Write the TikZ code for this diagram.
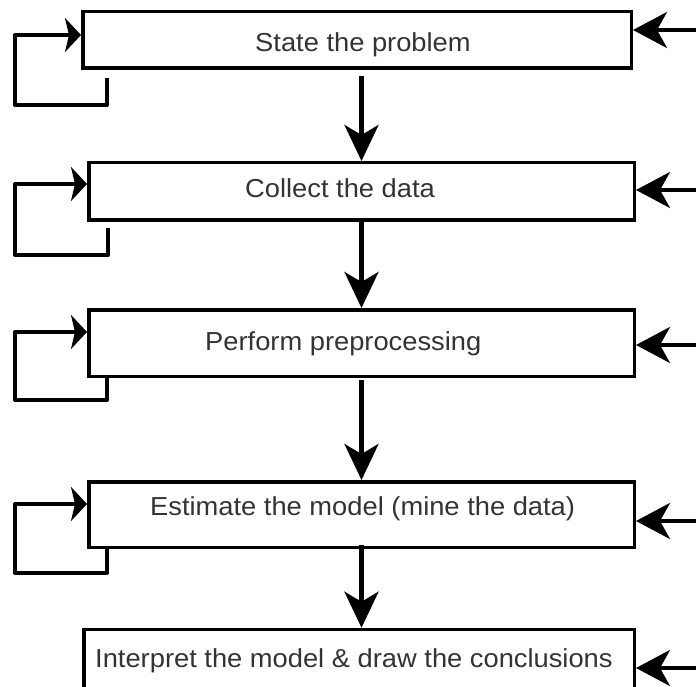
\documentclass[tikz,border=0pt]{standalone}
\usepackage{fontspec}
\setmainfont[FakeStretch=1.05]{Liberation Sans}
\usetikzlibrary{arrows.meta}

\tikzset{
  stagebox/.style={draw, line width=3.5pt, inner sep=0pt, minimum width=545.5pt},
  steptext/.style={font=\fontsize{26}{30}\selectfont, text=black!80, inner sep=0pt, anchor=base west},
  flowarrow/.style={line width=4.5pt, -{Stealth[length=36pt,width=34pt,inset=10pt]}},
  inarrow/.style={line width=4pt, -{Stealth[length=34pt,width=36pt,inset=10pt]}},
  looparrow/.style={line width=4pt, line join=round, -{Stealth[length=16pt,width=34pt,inset=4pt]}}
}

\begin{document}
\begin{tikzpicture}[x=1pt,y=-1pt]

\useasboundingbox (0,0) rectangle (696,687);

% Stages
\node[stagebox, minimum width=548.5pt, minimum height=56.5pt] (b1) at (357,40) {};
\node[stagebox, minimum height=57.5pt] (b2) at (361.5,191.5) {};
\node[stagebox, minimum height=66.5pt] (b3) at (361.5,343) {};
\node[stagebox, minimum height=65.5pt] (b4) at (361.5,514.5) {};
\node[stagebox, minimum width=550.5pt, minimum height=80pt] (b5) at (359,669.5) {};

\node[steptext] (t1) at (255,52) {State the problem};
\node[steptext] (t2) at (245,198) {Collect the data};
\node[steptext] (t3) at (205,350) {Perform preprocessing};
\node[steptext] (t4) at (150,515) {Estimate the model (mine the data)};
\node[steptext] (t5) at (95,667) {Interpret the model \& draw the conclusions};

% Flow down
\draw[flowarrow] ([yshift=-6pt]b1.south -| b2.north) -- (b2.north);
\draw[flowarrow] (b2.south) -- (b3.north);
\draw[flowarrow] ([yshift=-2pt]b3.south) -- (b4.north);
\draw[flowarrow] ([yshift=4pt]b4.south) -- (b4.south |- b5.north);

% Inputs from the right
\coordinate (r1) at (700,30);
\coordinate (r2) at (700,190);
\coordinate (r3) at (700,345);
\coordinate (r4) at (700,521);
\coordinate (r5) at (700,668);
\draw[inarrow] (r1) -- (r1 -| b1.east);
\draw[inarrow] (r2) -- (r2 -| b2.east);
\draw[inarrow] (r3) -- (r3 -| b3.east);
\draw[inarrow] (r4) -- (r4 -| b4.east);
\draw[inarrow] (r5) -- (r5 -| b5.east);

% Loops back
\draw[looparrow] ([xshift=26pt,yshift=-8pt]b1.south west) |- (15,105) |- (b1.west |- 0,35);
\draw[looparrow] ([xshift=21pt,yshift=-6pt]b2.south west) |- (15,255) |- (b2.west |- 0,184);
\draw[looparrow] ([xshift=20pt]b3.south west) |- (15,400) |- (b3.west |- 0,332);
\draw[looparrow] ([xshift=20pt]b4.south west) |- (15,573) |- (b4.west |- 0,504);

\end{tikzpicture}
\end{document}
